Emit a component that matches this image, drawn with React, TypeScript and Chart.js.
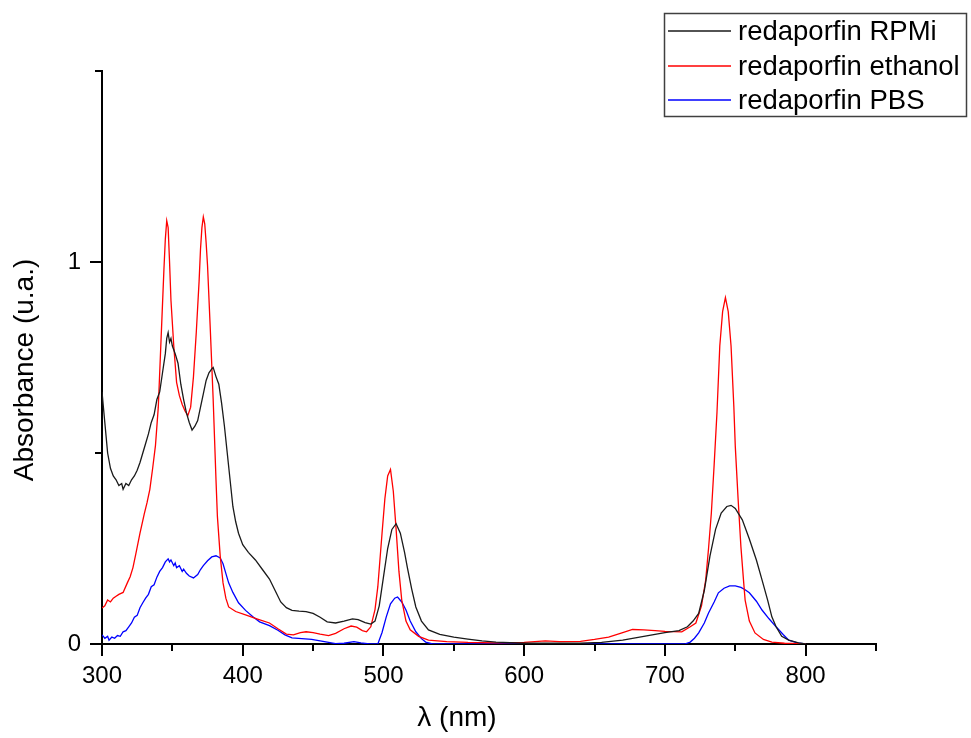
import React, { useEffect, useRef } from "react";
import { Chart, registerables } from "chart.js";

Chart.register(...registerables);

// ---------- data ----------
const rpmiNm = [300, 302, 304, 306, 308, 310, 312, 314, 315, 317, 319, 321, 323, 325, 327, 329, 331, 333, 335, 337, 339, 341, 343, 345, 346, 347, 348, 349, 350, 352, 354, 356, 358, 360, 362, 364, 366, 368, 370, 372, 374, 376, 378, 379, 381, 383, 385, 387, 389, 391, 393, 395, 397, 400, 404, 409, 414, 419, 423, 427, 431, 435, 440, 445, 450, 455, 460, 466, 472, 478, 482, 487, 491, 494, 497, 500, 503, 506, 509, 512, 515, 517, 520, 523, 527, 532, 540, 550, 560, 570, 580, 600, 620, 640, 655, 670, 685, 700, 710, 716, 720, 724, 728, 732, 736, 740, 744, 747, 750, 755, 760, 765, 769, 773, 776, 779, 783, 788, 795, 800];
const rpmiAbs = [0.66, 0.58, 0.5, 0.46, 0.44, 0.43, 0.415, 0.42, 0.405, 0.42, 0.415, 0.43, 0.44, 0.455, 0.475, 0.5, 0.525, 0.55, 0.58, 0.6, 0.64, 0.66, 0.71, 0.76, 0.8, 0.815, 0.79, 0.8, 0.78, 0.76, 0.735, 0.68, 0.64, 0.605, 0.58, 0.56, 0.57, 0.585, 0.62, 0.655, 0.69, 0.71, 0.72, 0.724, 0.7, 0.68, 0.63, 0.57, 0.5, 0.43, 0.36, 0.32, 0.29, 0.26, 0.24, 0.22, 0.195, 0.17, 0.14, 0.11, 0.095, 0.088, 0.086, 0.085, 0.08, 0.07, 0.058, 0.055, 0.06, 0.066, 0.064, 0.056, 0.052, 0.06, 0.1, 0.175, 0.25, 0.3, 0.315, 0.29, 0.24, 0.2, 0.145, 0.097, 0.06, 0.037, 0.025, 0.018, 0.013, 0.008, 0.005, 0.002, 0.002, 0.002, 0.004, 0.01, 0.02, 0.03, 0.035, 0.045, 0.06, 0.08, 0.14, 0.23, 0.3, 0.343, 0.36, 0.363, 0.355, 0.325, 0.275, 0.22, 0.168, 0.115, 0.071, 0.045, 0.02, 0.01, 0.003, 0];

const ethanolNm = [300, 302, 304, 306, 308, 310, 312, 315, 318, 320, 322, 324, 327, 330, 332, 334, 336, 338, 340, 342, 344, 345, 346, 347, 348, 349, 351, 353, 355, 357, 359, 361, 363, 365, 367, 369, 370, 371, 372, 373, 374, 375, 377, 379, 381, 382, 384, 386, 388, 390, 395, 402, 410, 419, 425, 431, 436, 441, 445, 450, 455, 461, 466, 472, 477, 481, 485, 488, 491, 494, 496, 499, 501, 503, 505, 507, 509, 511, 513, 516, 519, 525, 532, 545, 560, 580, 600, 615, 625, 640, 650, 660, 670, 677, 685, 693, 700, 712, 718, 722, 726, 729, 731, 733, 735, 737, 739, 741, 743, 745, 747, 749, 750, 752, 754, 756, 757, 760, 764, 770, 776, 785, 800];
const ethanolAbs = [0.094, 0.1, 0.115, 0.11, 0.12, 0.125, 0.13, 0.135, 0.16, 0.176, 0.2, 0.235, 0.29, 0.34, 0.37, 0.405, 0.46, 0.52, 0.62, 0.8, 0.98, 1.06, 1.108, 1.09, 1.0, 0.9, 0.78, 0.685, 0.65, 0.627, 0.61, 0.598, 0.62, 0.7, 0.816, 0.95, 1.034, 1.09, 1.118, 1.1, 1.05, 0.99, 0.82, 0.64, 0.43, 0.334, 0.23, 0.16, 0.12, 0.097, 0.085, 0.076, 0.066, 0.055, 0.04, 0.026, 0.024, 0.03, 0.032, 0.03, 0.026, 0.022, 0.028, 0.04, 0.047, 0.044, 0.035, 0.032, 0.045, 0.09, 0.15, 0.29, 0.38, 0.44, 0.457, 0.4, 0.3, 0.19, 0.115, 0.06, 0.037, 0.02, 0.01, 0.006, 0.004, 0.003, 0.004, 0.008, 0.006, 0.007, 0.012, 0.018, 0.03, 0.038, 0.037, 0.035, 0.033, 0.032, 0.045, 0.055, 0.1, 0.168, 0.25, 0.343, 0.47, 0.606, 0.78, 0.87, 0.907, 0.87, 0.78, 0.62, 0.518, 0.38, 0.255, 0.16, 0.115, 0.06, 0.029, 0.012, 0.005, 0.002, 0];

const pbsNm = [300, 302, 304, 305, 307, 309, 311, 313, 315, 317, 319, 321, 323, 325, 327, 329, 331, 333, 335, 337, 339, 341, 343, 345, 347, 348, 349, 351, 352, 353, 355, 357, 358, 360, 362, 365, 368, 370, 372, 375, 378, 381, 384, 386, 388, 390, 393, 397, 402, 407, 412, 419, 425, 430, 435, 442, 449, 455, 461, 466, 472, 479, 484, 490, 496, 499, 502, 505, 508, 510, 513, 516, 519, 523, 527, 530, 535, 560, 600, 650, 700, 714, 718, 721, 724, 728, 731, 735, 738, 742, 746, 750, 754, 757, 760, 765, 769, 774, 779, 784, 788, 794, 800];
const pbsAbs = [0.024, 0.015, 0.02, 0.01, 0.018, 0.015, 0.022, 0.02, 0.032, 0.035, 0.045, 0.055, 0.07, 0.075, 0.095, 0.108, 0.12, 0.13, 0.15, 0.155, 0.175, 0.19, 0.2, 0.215, 0.223, 0.215, 0.22, 0.205, 0.212, 0.2, 0.205, 0.19, 0.196, 0.185, 0.178, 0.173, 0.182, 0.195, 0.205, 0.218, 0.228, 0.231, 0.225, 0.21, 0.185, 0.16, 0.135, 0.108, 0.088, 0.072, 0.058, 0.048, 0.036, 0.024, 0.016, 0.014, 0.012, 0.008, 0.004, 0.001, 0.002, 0.006, 0.003, 0, 0, 0.03, 0.071, 0.105, 0.12, 0.123, 0.11, 0.089, 0.06, 0.032, 0.014, 0.005, 0, 0, 0, 0, 0, 0, 0.005, 0.015, 0.029, 0.055, 0.081, 0.11, 0.134, 0.146, 0.152, 0.152, 0.148, 0.142, 0.134, 0.112, 0.089, 0.066, 0.045, 0.025, 0.01, 0.003, 0];

const seriesLabels = ["redaporfin RPMi", "redaporfin ethanol", "redaporfin PBS"];
const seriesColors = ["#1a1a1a", "#ff0000", "#0000ff"];
const xTitle = "λ (nm)";
const yTitle = "Absorbance (u.a.)";
const xTickValues = [300, 350, 400, 450, 500, 550, 600, 650, 700, 750, 800, 850];
const yTickValues = [0, 0.5, 1, 1.5];

const FONT = "'Liberation Sans', Arial, sans-serif";

const pts = (xs: number[], ys: number[]) => xs.map((x, i) => ({ x, y: ys[i] }));

const decorPlugin = {
  id: "decor",
  afterDraw(chart: any) {
    const ctx = chart.ctx as CanvasRenderingContext2D;
    const xs = chart.scales.x;
    const ys = chart.scales.y;
    const area = chart.chartArea;
    ctx.save();
    // tick marks
    ctx.strokeStyle = "#000";
    ctx.lineWidth = 2;
    ctx.beginPath();
    xTickValues.forEach((v) => {
      const px = Math.round(xs.getPixelForValue(v));
      const len = v % 100 === 0 ? 12 : 7;
      ctx.moveTo(px, area.bottom);
      ctx.lineTo(px, area.bottom + len);
    });
    yTickValues.forEach((v) => {
      const py = Math.round(ys.getPixelForValue(v));
      const len = Number.isInteger(v) ? 12 : 7;
      ctx.moveTo(area.left, py);
      ctx.lineTo(area.left - len, py);
    });
    ctx.stroke();

    // axis titles
    ctx.fillStyle = "#000";
    ctx.font = `28px ${FONT}`;
    ctx.textAlign = "center";
    ctx.textBaseline = "middle";
    ctx.fillText(xTitle, 457, 718);
    ctx.save();
    ctx.translate(25, 370);
    ctx.rotate(-Math.PI / 2);
    ctx.fillText(yTitle, 0, 0);
    ctx.restore();

    // legend box
    const bx = 664.5, by = 13.5, bw = 302, bh = 103;
    ctx.fillStyle = "#fff";
    ctx.fillRect(bx, by, bw, bh);
    ctx.strokeStyle = "#404040";
    ctx.lineWidth = 1.5;
    ctx.strokeRect(bx, by, bw, bh);
    const rows = [31, 66, 100];
    chart.data.datasets.forEach((ds: any, i: number) => {
      ctx.strokeStyle = ds.borderColor;
      ctx.lineWidth = 1.3;
      ctx.beginPath();
      ctx.moveTo(668, rows[i]);
      ctx.lineTo(731, rows[i]);
      ctx.stroke();
      ctx.fillStyle = "#000";
      ctx.font = `27.5px ${FONT}`;
      ctx.textAlign = "left";
      ctx.textBaseline = "middle";
      ctx.fillText(ds.label, 738, rows[i] + 1);
    });
    ctx.restore();
  },
};

export default function App() {
  const ref = useRef<HTMLCanvasElement | null>(null);
  useEffect(() => {
    if (!ref.current) return;
    const chart = new Chart(ref.current, {
      type: "line",
      data: {
        datasets: [
          { label: seriesLabels[0], data: pts(rpmiNm, rpmiAbs), borderColor: seriesColors[0] },
          { label: seriesLabels[1], data: pts(ethanolNm, ethanolAbs), borderColor: seriesColors[1] },
          { label: seriesLabels[2], data: pts(pbsNm, pbsAbs), borderColor: seriesColors[2] },
        ].map((d) => ({ ...d, borderWidth: 1.3, pointRadius: 0, tension: 0, fill: false })),
      },
      options: {
        responsive: false,
        animation: false,
        layout: { padding: { top: 71, right: 95, left: 0, bottom: 0 } },
        plugins: { legend: { display: false }, tooltip: { enabled: false } },
        scales: {
          x: {
            type: "linear",
            min: 300,
            max: 850,
            z: 1,
            afterFit: (s: any) => { s.height = 94; },
            afterBuildTicks: (s: any) => { s.ticks = xTickValues.map((v) => ({ value: v })); },
            grid: { display: false, drawTicks: false },
            border: { display: true, color: "#000", width: 2 },
            ticks: {
              padding: 18,
              maxRotation: 0,
              autoSkip: false,
              color: "#000",
              font: { family: FONT, size: 24 },
              callback: (v: any) => (Number(v) % 100 === 0 ? String(v) : ""),
            },
          },
          y: {
            type: "linear",
            min: 0,
            max: 1.5,
            z: 1,
            afterFit: (s: any) => { s.width = 102; },
            afterBuildTicks: (s: any) => { s.ticks = yTickValues.map((v) => ({ value: v })); },
            grid: { display: false, drawTicks: false },
            border: { display: true, color: "#000", width: 2 },
            ticks: {
              padding: 21,
              autoSkip: false,
              color: "#000",
              font: { family: FONT, size: 24 },
              callback: (v: any) => (Number.isInteger(Number(v)) ? String(v) : ""),
            },
          },
        },
      },
      plugins: [decorPlugin],
    });
    return () => chart.destroy();
  }, []);
  return (
    <div style={{ position: "fixed", left: 0, top: 0, width: 971, height: 738, background: "#fff" }}>
      <canvas ref={ref} width={971} height={738} style={{ display: "block" }} />
    </div>
  );
}
